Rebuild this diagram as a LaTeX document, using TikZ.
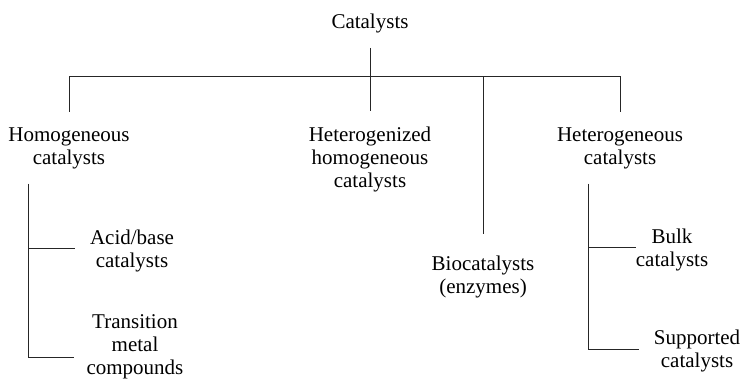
\documentclass[tikz,border=0pt]{standalone}
\usepackage{fontspec}
\setmainfont{Liberation Serif}
\newfontfamily\clsfont{Liberation Serif}
\usetikzlibrary{calc}
\tikzset{
    cls/.style={align=center, inner sep=0pt, font=\clsfont\fontsize{21}{23}\selectfont},
    link/.style={line width=0.9pt, black!85},
    gap/.style={link, shorten <=15pt, shorten >=15pt},
    tip/.style={link, shorten >=15pt}
}
\begin{document}
\begin{tikzpicture}[x=1pt, y=-1pt]
    \useasboundingbox (0,0) rectangle (741,381);
    % classes
    \node[cls] (cat) at (370,23) {Catalysts};
    \node[cls] (hom) at (69,148) {Homogeneous\\catalysts};
    \node[cls] (hgz) at (370,159) {Heterogenized\\homogeneous\\catalysts};
    \node[cls] (bio) at (483,277) {Biocatalysts\\(enzymes)};
    \node[cls] (het) at (620,148) {Heterogeneous\\catalysts};
    \node[cls] (acid) at (132,251) {Acid/base\\catalysts};
    \node[cls] (trans) at (135,347) {Transition\\metal\\compounds};
    \node[cls] (bulk) at (672,250) {Bulk\\catalysts};
    \node[cls] (sup) at (697,351) {Supported\\catalysts};
    % main tree
    \coordinate (bar) at (370,76);
    \draw[gap] (cat.south) -- (hgz.north);
    \draw[link] (hom.north |- bar) -- (het.north |- bar);
    \foreach \n in {hom, het}
        \draw[tip] (\n.north |- bar) -- (\n.north);
    \draw[link, shorten >=22pt] (bio.north |- bar) -- (bio.north);
    % sub trees
    \coordinate (hl) at ([xshift=-41pt, yshift=-15pt]hom.south);
    \coordinate (hr) at ([xshift=-32pt, yshift=-15pt]het.south);
    \draw[tip] (hl) |- ([yshift=3pt]acid.west);
    \draw[link, shorten >=12pt] (hl) |- ([yshift=-10pt]trans.west);
    \draw[link] (hr) |- ([yshift=3pt]bulk.west);
    \draw[tip] (hr) |- ([yshift=2pt]sup.west);
\end{tikzpicture}
\end{document}
